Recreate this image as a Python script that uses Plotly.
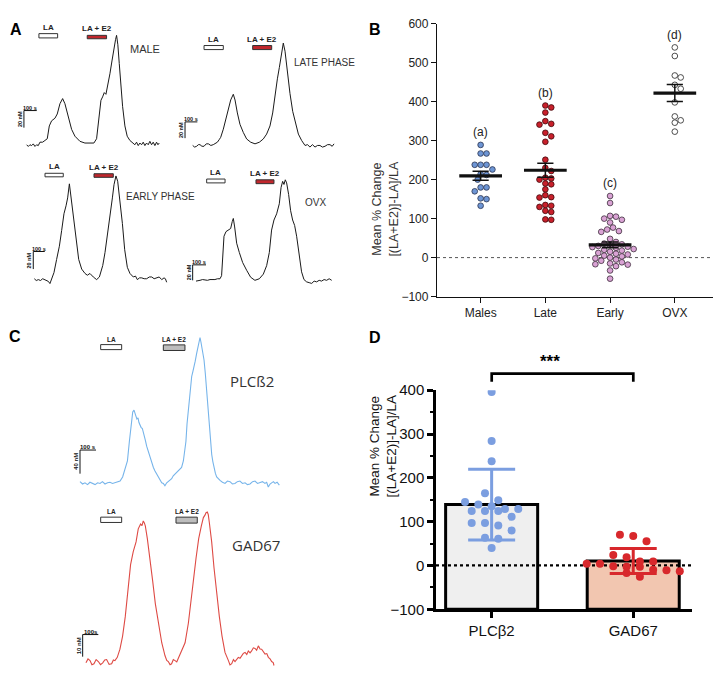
import numpy as np
import plotly.graph_objects as go

W, H = 720, 678
ARIAL = "Liberation Sans"
HUMAN = "Open Sans"

# Panel A / C: calcium traces, time (s) and [Ca2+]i (nM)
male_t = [0, 13, 26, 39, 52, 65, 78, 91, 104, 125, 143, 161, 177, 195, 221, 239, 260, 281, 299, 325,
          351, 377, 416, 455, 494, 525, 546, 567, 580, 593, 606, 619, 632, 650, 666, 681, 694, 702, 712,
          723, 733, 749, 767, 785, 806, 832, 845, 858, 871, 884, 897, 910, 923, 936, 949, 962, 975, 988,
          1001, 1014, 1025, 1035]
male_ca = [50, 48, 50, 49, 51, 48, 50, 49, 53, 53, 55, 57, 72, 78, 81, 86, 98, 104, 98, 83,
           68, 60, 54, 52, 52, 52, 57, 83, 102, 106, 111, 109, 118, 133, 148, 163, 173, 178, 167,
           145, 121, 95, 72, 60, 55, 52, 50, 53, 49, 52, 50, 53, 49, 52, 50, 54, 50, 53,
           49, 53, 50, 52]

late_t = [0, 16, 32, 46, 59, 75, 92, 110, 127, 147, 167, 185, 200, 214, 227, 248, 270, 289, 308, 329,
          343, 362, 383, 410, 437, 470, 505, 540, 572, 599, 626, 648, 670, 686, 702, 718, 734, 748, 767,
          788, 810, 832, 856, 883, 910, 930, 950, 970, 991, 1011, 1031, 1051, 1072, 1092, 1112, 1130, 1145]
late_ca = [50, 48, 49, 51, 51, 49, 49, 52, 52, 50, 51, 53, 54, 57, 60, 70, 82, 94, 106, 113,
           106, 90, 76, 66, 58, 54, 52, 54, 58, 64, 74, 90, 118, 132, 146, 162, 176, 166, 138,
           114, 92, 78, 64, 56, 50, 51, 48, 51, 48, 50, 50, 48, 49, 51, 51, 49, 52]

early_t = [0, 17, 35, 54, 73, 90, 107, 122, 136, 151, 171, 194, 218, 238, 258, 276, 290, 305, 319, 339,
           362, 386, 412, 441, 461, 484, 513, 542, 566, 595, 615, 635, 658, 679, 693, 710, 725, 745, 766,
           786, 809, 832, 861, 880, 896, 915, 934, 955, 977, 1000, 1021, 1042, 1064, 1086, 1108, 1128,
           1140, 1151]
early_ca = [50, 48, 49, 48, 50, 49, 48, 47, 44.5, 50, 57, 72, 87, 105, 124, 133, 142, 158, 142, 120,
            94, 72, 61, 56, 54, 56, 52, 49, 52, 65, 80, 98, 120, 142, 157, 167, 161, 139, 113,
            83, 63, 56, 52, 53, 49, 51, 51, 50, 50, 52, 52, 50, 51, 52, 49, 51,
            50, 46]

ovx_t = [0, 15, 30, 49, 68, 86, 105, 124, 142, 161, 180, 192, 200, 210, 225, 242, 260, 272, 280, 290,
         305, 325, 350, 380, 410, 442, 475, 505, 530, 550, 567, 585, 605, 625, 638, 650, 660, 670, 680,
         695, 710, 725, 740, 755, 772, 792, 810, 830, 849, 868, 886, 905, 924, 942, 961, 980, 999, 1018]
ovx_ca = [49, 50, 50, 51, 50, 50, 51, 51, 51, 52, 52, 56, 82, 107, 113, 115, 117, 126, 130, 119,
          98, 86, 73, 63, 54, 50, 52, 58, 69, 86, 115, 128, 136, 149, 170, 178, 174, 180, 176,
          161, 140, 128, 121, 107, 86, 61, 51, 48, 47, 46, 49, 48, 50, 49, 51, 50, 52, 50]

plc_t = [0, 16, 31, 47, 62, 78, 94, 110, 125, 140, 156, 172, 187, 203, 218, 234, 250, 266, 281, 296,
         308, 318, 329, 337, 343, 349, 355, 362, 368, 374, 381, 389, 394, 399, 408, 416, 426, 437, 448, 458,
         468, 478, 489, 499, 510, 520, 530, 541, 551, 562, 572, 582, 593, 604, 614, 624, 634, 645, 653, 661,
         668, 676, 686, 697, 704, 711, 719, 728, 734, 740, 749, 755, 761, 768, 774, 782, 790, 798, 807, 814,
         822, 829, 836, 845, 853, 864, 874, 889, 905, 920, 936, 951, 967, 982, 998, 1014, 1030, 1045, 1061,
         1077, 1092, 1108, 1123, 1139, 1154, 1165, 1175, 1186, 1196, 1207, 1217, 1230, 1244]
plc_ca = [52, 48, 50, 47, 51, 49, 47, 50, 49, 52, 48, 50, 51, 49, 50, 52, 53, 60, 74, 87,
          120, 148, 170, 173, 166, 163, 158, 160, 152, 148, 144, 142, 135, 131, 122, 112, 103, 93, 86, 76,
          70, 65, 58, 55, 50, 49, 45, 50, 52, 55, 57, 62, 65, 68, 71, 74, 76, 87, 100, 120,
          150, 175, 208, 230, 238, 250, 256, 269, 276, 285, 296, 288, 279, 270, 258, 235, 208, 175, 142, 118,
          98, 86, 76, 66, 60, 56, 54, 51, 49, 53, 52, 48, 49, 52, 53, 49, 50, 47, 48,
          52, 53, 49, 50, 52, 49, 51, 43, 48, 50, 52, 49, 51, 46]

gad_t = [0, 13, 26, 38, 51, 65, 79, 93, 107, 120, 132, 148, 164, 175, 185, 200, 217, 234, 251, 268,
         285, 302, 320, 334, 349, 358, 366, 373, 379, 392, 409, 426, 443, 462, 484, 505, 516, 526, 537, 547,
         558, 569, 580, 590, 600, 611, 622, 633, 654, 671, 686, 703, 720, 737, 750, 760, 767, 775, 781, 788,
         803, 818, 835, 852, 869, 888, 910, 920, 931, 942, 952, 963, 973, 984, 995, 1005, 1016, 1027, 1037,
         1048, 1058, 1069, 1080, 1090, 1101, 1112, 1122, 1133, 1144, 1155, 1165, 1176, 1186, 1196, 1201]
gad_ca = [49.7, 51.5, 50.7, 48.8, 49.3, 51.2, 50.3, 48.9, 49.7, 51.0, 51.2, 49.0, 49.3, 51.0, 50.7, 52.2,
          55.9, 61.8, 70.6, 82.3, 94.1, 100, 104.4, 110.3, 112.5, 111.8, 113.9, 113.0, 111.7, 105.9,
          97, 86.8, 76.5, 67.6, 58.8, 52.9, 50.8, 50.3, 48.9, 49.3, 51.2, 50.7, 50.1, 51.8, 53.5, 55.1,
          57.3, 58.8, 67.6, 76.5, 86.8, 97, 105.9, 111.7, 115.4, 116.5, 117.6, 117.9, 116.8, 113.2,
          104.4, 92.6, 80.9, 70.6, 61.8, 54.4, 50.7, 48.8, 49.3, 51.2, 50.3, 51.5, 52.2, 51.8, 53.2,
          54.0, 54.4, 53.5, 55.1, 54.2, 55.1, 56.5, 56.2, 55.4, 57.4, 56.0, 55.9, 54.6, 53.7, 53.9,
          52.2, 51.5, 50.3, 49.8, 48.5]

# Panel B: mean % change per group
groups_b = ["Males", "Late", "Early", "OVX"]
letters_b = ["(a)", "(b)", "(c)", "(d)"]
males_b = [289, 267, 267, 238, 238, 238, 226, 214, 212, 200, 180, 180, 170, 152, 150, 133]
late_b = [390, 385, 372, 350, 343, 341, 320, 311, 297, 251, 230, 222, 205, 203, 200, 190, 188, 175,
          160, 155, 154, 135, 133, 130, 120, 117, 98, 97]
early_b = [158, 140, 107, 105, 100, 97, 90, 77, 72, 68, 66, 48, 40, 36, 34, 32, 30, 28, 27, 25,
           22, 20, 18, 15, 12, 10, 8, 5, 3, 0, -2, -5, -8, -12, -15, -17, -18, -22, -33, -54]
ovx_b = [539, 517, 467, 462, 443, 433, 398, 362, 352, 346, 323]

# Panel D
groups_d = ["PLCβ2", "GAD67"]
plc_d = [396, 284, 238, 165, 149, 145, 139, 135, 129, 129, 124, 124, 124, 111, 97, 97, 91, 80, 63, 61, 40]
gad_d = [67, 70, 55, 24, 19, 9, 9, 4, 4, -2, -3, -3, -11, -10, -13, -17, -26]


def swarm(vals, ppu_y, ppu_x, diam, step):
    # simple beeswarm: place each point at the nearest free horizontal slot
    order = sorted(range(len(vals)), key=lambda i: -vals[i])
    placed, offs = [], [0.0] * len(vals)
    cands = [0.0]
    for k in range(1, 30):
        cands += [k * step, -k * step]
    for i in order:
        y = vals[i] * ppu_y
        for c in cands:
            if all((c - px) ** 2 + (y - py) ** 2 >= diam ** 2 for px, py in placed):
                break
        placed.append((c, y))
        offs[i] = c / ppu_x
    return offs


def rows(vals, ppu_y, ppu_x, row_h, gap):
    # Prism-style scatter: points within one row height are spread symmetrically
    order = sorted(range(len(vals)), key=lambda i: -vals[i])
    offs = [0.0] * len(vals)
    grp = []
    for i in order + [None]:
        if i is not None and grp and (vals[grp[0]] - vals[i]) * ppu_y < row_h:
            grp.append(i)
            continue
        for k, j in enumerate(grp):
            offs[j] = (k - (len(grp) - 1) / 2) * gap / ppu_x
        grp = [i]
    return offs


fig = go.Figure()
axes = {}
shapes = []
annos = []


def add_axes(n, box, xr, yr, **kw):
    x0, x1, y0, y1 = box
    sx = "" if n == 1 else str(n)
    axes["xaxis" + sx] = dict(domain=[x0 / W, x1 / W], range=xr, anchor="y" + sx,
                              showgrid=False, zeroline=False, **kw)
    axes["yaxis" + sx] = dict(domain=[1 - y1 / H, 1 - y0 / H], range=yr, anchor="x" + sx,
                              showgrid=False, zeroline=False, **kw)
    return "x" + sx, "y" + sx


trace_panels = [
    dict(t=male_t, ca=male_ca, color="#1a1a1a", lw=1, xr=[-40, 1080], yr=[40, 190],
         box=(21.5, 165, 16.5, 148), la=(96, 242, 175, 180), e2=(473, 624, 174, 178),
         e2fill="#c1272d", sb=(-21, 90, 20), sbl=("100 s", "20 nM"), name="MALE",
         npos=(793, 162), nsize=11, nfont=ARIAL, lab=8, sbsize=5.5),
    dict(t=late_t, ca=late_ca, color="#1a1a1a", lw=1, xr=[-80, 1160], yr=[40, 190],
         box=(182.8, 335.9, 23.3, 148.3), la=(92, 248, 168, 173), e2=(486, 640, 168, 173),
         e2fill="#c1272d", sb=(-62, 79, 20), sbl=("100 s", "20 nM"), name="LATE PHASE",
         npos=(805, 152), nsize=10, nfont=ARIAL, lab=8, sbsize=5.5),
    dict(t=early_t, ca=early_ca, color="#1a1a1a", lw=1, xr=[-40, 1200], yr=[35, 185],
         box=(29.7, 172.3, 155, 290.2), la=(93, 252, 166, 170), e2=(519, 687, 165.4, 169.5),
         e2fill="#c1272d", sb=(-9, 81, 20), sbl=("100 s", "20 nM"), name="EARLY PHASE",
         npos=(783, 144), nsize=10, nfont=ARIAL, lab=8, sbsize=5.5),
    dict(t=ovx_t, ca=ovx_ca, color="#1a1a1a", lw=1, xr=[-60, 1060], yr=[35, 195],
         box=(188, 337.3, 163.3, 290.2), la=(80, 218, 176, 181), e2=(450, 585, 175, 180),
         e2fill="#c1272d", sb=(-25, 70, 20), sbl=("100 s", "20 nM"), name="OVX",
         npos=(800, 151), nsize=10, nfont=ARIAL, lab=8, sbsize=5.5),
    dict(t=plc_t, ca=plc_ca, color="#76b4ea", lw=1.1, xr=[-20, 1260], yr=[35, 305],
         box=(76.8, 281.9, 331.5, 495.1), la=(129, 260, 275.5, 284), e2=(520, 655, 274, 283.5),
         e2fill="#bdbdbd", sb=(0, 105.5, 40), sbl=("100 s", "40 nM"), name="PLCß2",
         npos=(926, 222), nsize=15, nfont=HUMAN, lab=6.5, sbsize=6),
    dict(t=gad_t, ca=gad_ca, color="#de4a44", lw=1.1, xr=[-40, 1240], yr=[47, 122],
         box=(79.7, 280.1, 506.7, 676.8), la=(94, 228, 113.2, 115.6), e2=(575, 711, 112.9, 115.6),
         e2fill="#bdbdbd", sb=(-21, 62.5, 10), sbl=("100s", "10 nM"), name="GAD67",
         npos=(918, 102.9), nsize=15, nfont=HUMAN, lab=6.5, sbsize=6),
]

for n, p in enumerate(trace_panels, start=1):
    xa, ya = add_axes(n, p["box"], p["xr"], p["yr"], visible=False)
    fig.add_trace(go.Scatter(x=p["t"], y=p["ca"], mode="lines", xaxis=xa, yaxis=ya,
                             line=dict(color=p["color"], width=p["lw"]), hoverinfo="skip"))
    for (t0, t1, c0, c1), fill, txt in ((p["la"], "white", "LA"), (p["e2"], p["e2fill"], "LA + E2")):
        shapes.append(dict(type="rect", xref=xa, yref=ya, x0=t0, x1=t1, y0=c0, y1=c1,
                           fillcolor=fill, line=dict(color="#333333", width=1)))
        annos.append(dict(xref=xa, yref=ya, x=(t0 + t1) / 2, y=c1, yanchor="bottom", yshift=0,
                          text="<b>%s</b>" % txt, showarrow=False,
                          font=dict(family=ARIAL, size=p["lab"], color="#222222")))
    sx, sy, dy = p["sb"]
    shapes.append(dict(type="line", xref=xa, yref=ya, x0=sx, x1=sx + 100, y0=sy, y1=sy,
                       line=dict(color="#111111", width=1)))
    shapes.append(dict(type="line", xref=xa, yref=ya, x0=sx, x1=sx, y0=sy, y1=sy - dy,
                       line=dict(color="#111111", width=1)))
    annos.append(dict(xref=xa, yref=ya, x=sx + 50, y=sy, yanchor="bottom", showarrow=False,
                      text="<b>%s</b>" % p["sbl"][0], yshift=-2,
                      font=dict(family=ARIAL, size=p["sbsize"], color="#111111")))
    annos.append(dict(xref=xa, yref=ya, x=sx, y=sy - dy / 2, showarrow=False, textangle=-90,
                      text="<b>%s</b>" % p["sbl"][1], xshift=-4,
                      font=dict(family=ARIAL, size=p["sbsize"], color="#111111")))
    annos.append(dict(xref=xa, yref=ya, x=p["npos"][0], y=p["npos"][1], xanchor="left",
                      showarrow=False, text=p["name"],
                      font=dict(family=p["nfont"], size=p["nsize"], color="#333333")))

# ---- Panel B
xb, yb = add_axes(7, (437, 713, 15, 295), [-0.674, 3.59], [-100, 600],
                  showline=True, linecolor="#111111", linewidth=1.3, ticks="outside",
                  ticklen=5, tickwidth=1.3, tickcolor="#111111",
                  tickfont=dict(family=ARIAL, size=12, color="#222222"))
axes["xaxis7"].update(tickmode="array", tickvals=[0, 1, 2, 3], ticktext=groups_b)
axes["yaxis7"].update(dtick=100, tick0=0)

fig.add_trace(go.Scatter(x=[-0.674, 3.59], y=[0, 0], mode="lines", xaxis=xb, yaxis=yb,
                         line=dict(color="#555555", width=1, dash="dot"), hoverinfo="skip"))
b_style = [("#6d95d4", "#2c3550"), ("#c8202b", "#3f0a0c"), ("#d9a2d4", "#3d2e3c"), ("#ffffff", "#222222")]
for i, vals in enumerate([males_b, late_b, early_b, ovx_b]):
    offs = swarm(vals, 0.4, 64.8, 5.9, 2.95)
    fill, edge = b_style[i]
    fig.add_trace(go.Scatter(x=[i + o for o in offs], y=vals, mode="markers", xaxis=xb, yaxis=yb,
                             marker=dict(size=5.7, color=fill, line=dict(color=edge, width=0.8)),
                             hoverinfo="skip"))
    m = float(np.mean(vals))
    s = float(np.std(vals, ddof=1) / np.sqrt(len(vals)))
    fig.add_trace(go.Scatter(x=[i - 0.125, i + 0.125, None, i, i, None, i - 0.125, i + 0.125],
                             y=[m + s, m + s, None, m + s, m - s, None, m - s, m - s],
                             mode="lines", xaxis=xb, yaxis=yb,
                             line=dict(color="#111111", width=1.5), hoverinfo="skip"))
    fig.add_trace(go.Scatter(x=[i - 0.33, i + 0.33], y=[m, m], mode="lines", xaxis=xb, yaxis=yb,
                             line=dict(color="#111111", width=3.2), hoverinfo="skip"))
    annos.append(dict(xref=xb, yref=yb, x=i, y=max(vals) + 33, showarrow=False, text=letters_b[i],
                      font=dict(family=ARIAL, size=12, color="#222222")))

annos.append(dict(xref="paper", yref="paper", x=385 / W, y=1 - 155 / H, showarrow=False,
                  textangle=-90, text="Mean % Change<br>[(LA+E2)]-LA]/LA",
                  font=dict(family=ARIAL, size=12.5, color="#333333")))

# ---- Panel D
xd, yd = add_axes(8, (436, 691.7, 391, 615.7), [-0.393, 1.413], [-100, 400],
                  showline=True, linecolor="#000000", linewidth=2.5, ticks="outside",
                  ticklen=6, tickwidth=2.5, tickcolor="#000000",
                  tickfont=dict(family=ARIAL, size=15, color="#111111"))
axes["xaxis8"].update(tickmode="array", tickvals=[0, 1], ticktext=groups_d)
axes["yaxis8"].update(dtick=100, tick0=0,
                      minor=dict(dtick=50, ticks="outside", ticklen=3.5, tickwidth=2, tickcolor="#000000"))

d_means = [float(np.mean(v)) for v in (plc_d, gad_d)]
d_sds = [float(np.std(v, ddof=1)) for v in (plc_d, gad_d)]
fig.add_trace(go.Bar(x=[0, 1], y=[m + 100 for m in d_means], base=-100, width=0.65,
                     xaxis=xd, yaxis=yd, marker=dict(color=["#efefef", "#f2c6b0"],
                                                     line=dict(color="#000000", width=3)),
                     hoverinfo="skip"))
fig.add_trace(go.Scatter(x=[-0.393, 1.413], y=[0, 0], mode="lines", xaxis=xd, yaxis=yd,
                         line=dict(color="#000000", width=2.2, dash="dot"), hoverinfo="skip"))
d_colors = ["#7b9ee0", "#d8282c"]
for i, vals in enumerate([plc_d, gad_d]):
    offs = rows(vals, 0.449, 141.6, 8.5, 13.3)
    fig.add_trace(go.Scatter(x=[i + o for o in offs], y=vals, mode="markers", xaxis=xd, yaxis=yd,
                             marker=dict(size=8, color=d_colors[i]), hoverinfo="skip"))
    m, s = d_means[i], d_sds[i]
    fig.add_trace(go.Scatter(x=[i - 0.166, i + 0.166, None, i, i, None, i - 0.166, i + 0.166],
                             y=[m + s, m + s, None, m + s, m - s, None, m - s, m - s],
                             mode="lines", xaxis=xd, yaxis=yd,
                             line=dict(color=d_colors[i], width=3), hoverinfo="skip"))

shapes.append(dict(type="path", xref="paper", yref="paper",
                   path="M %f %f L %f %f L %f %f L %f %f" % (
                       491.7 / W, 1 - 382.3 / H, 491.7 / W, 1 - 374 / H,
                       633.3 / W, 1 - 374 / H, 633.3 / W, 1 - 382.3 / H),
                   line=dict(color="#000000", width=2.7)))
annos.append(dict(xref="paper", yref="paper", x=562 / W, y=1 - 362 / H, showarrow=False,
                  text="<b>***</b>", font=dict(family=ARIAL, size=17, color="#000000")))
annos.append(dict(xref="paper", yref="paper", x=383 / W, y=1 - 503 / H, showarrow=False,
                  textangle=-90, text="Mean % Change<br>[(LA+E2)]-LA]/LA",
                  font=dict(family=ARIAL, size=13.5, color="#111111")))

# panel letters
for txt, px, py in (("A", 8, 10), ("B", 375, 10), ("C", 7, 336), ("D", 375, 337)):
    annos.append(dict(xref="paper", yref="paper", x=px / W, y=1 - py / H, showarrow=False,
                      text="<b>%s</b>" % txt, font=dict(family=ARIAL, size=16, color="#000000")))

fig.update_layout(width=W, height=H, margin=dict(l=0, r=0, t=0, b=0),
                  paper_bgcolor="white", plot_bgcolor="white", showlegend=False,
                  hovermode=False, shapes=shapes, annotations=annos, **axes)
fig.write_html("out.html", config={"displayModeBar": False},
               post_script="document.body.style.margin='0';")
